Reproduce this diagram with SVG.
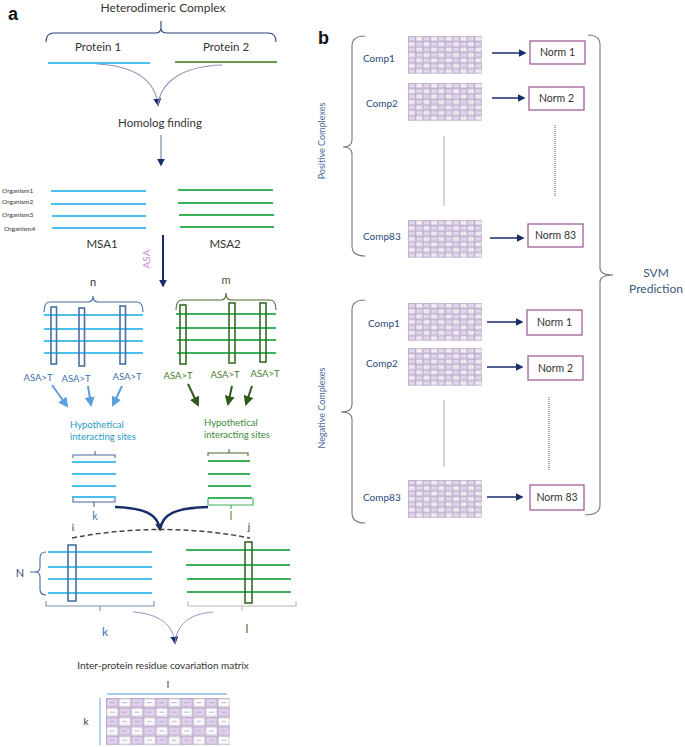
<svg xmlns="http://www.w3.org/2000/svg" width="685" height="747" viewBox="0 0 685 747">
<style>
text{font-family:Lato,"Open Sans","Liberation Sans",sans-serif;fill:#333}
.lab{font-size:11.5px}
.org{font-size:6.5px}
.bl{stroke:#4cbfef;stroke-width:1.8;fill:none}
.gl{stroke:#3cb25a;stroke-width:1.8;fill:none}
.br{fill:none;stroke-width:1.1}
.brect{fill:none;stroke:#4a70a0;stroke-width:1.6}
.grect{fill:none;stroke:#3a6a28;stroke-width:1.6}
.comp{font-size:10px;fill:#2a4a7a}
.norm rect{fill:#fff;stroke:#a0609a;stroke-width:1.3}
.norm text{font-size:10.5px;text-anchor:middle}
.navy{stroke:#1a2d6b;fill:none}
</style>
<defs>
<marker id="mNavy" viewBox="0 0 10 10" refX="8" refY="5" markerWidth="8" markerHeight="8" markerUnits="userSpaceOnUse" orient="auto"><path d="M0,0 L10,5 L0,10 z" fill="#1a2d6b"/></marker>
<marker id="mBlue" viewBox="0 0 10 10" refX="8" refY="5" markerWidth="10" markerHeight="10" markerUnits="userSpaceOnUse" orient="auto"><path d="M0,0 L10,5 L0,10 z" fill="#5aa0dc"/></marker>
<marker id="mGreen" viewBox="0 0 10 10" refX="8" refY="5" markerWidth="10" markerHeight="10" markerUnits="userSpaceOnUse" orient="auto"><path d="M0,0 L10,5 L0,10 z" fill="#2f5a1a"/></marker>
<pattern id="chk" patternUnits="userSpaceOnUse" width="14.8" height="10.8">
<rect width="14.8" height="10.8" fill="#d6d0df"/>
<rect x="0" y="0" width="7.4" height="5.4" fill="#cdb9dc"/>
<rect x="7.4" y="5.4" width="7.4" height="5.4" fill="#cdb9dc"/>
<rect x="1.3" y="1.3" width="4.8" height="2.8" fill="#ece4f2"/>
<rect x="8.7" y="6.7" width="4.8" height="2.8" fill="#ece4f2"/>
<rect x="8.7" y="1.3" width="4.8" height="2.8" fill="#fbfbfd"/>
<rect x="1.3" y="6.7" width="4.8" height="2.8" fill="#fbfbfd"/>
<path d="M2.4,2.7 H5 M9.8,2.7 H12.4 M2.4,8.1 H5 M9.8,8.1 H12.4" stroke="#b8b0c8" stroke-width="0.5"/>
<path d="M0,0.2 H14.8 M0,5.6 H14.8 M0.2,0 V10.8 M7.6,0 V10.8" stroke="#a89cb8" stroke-width="0.4"/>
</pattern>
<pattern id="chkBig" patternUnits="userSpaceOnUse" width="24.8" height="18.8">
<rect width="24.8" height="18.8" fill="#e4e0e8"/>
<rect x="0" y="0" width="12.4" height="9.4" fill="#d4bfe2"/>
<rect x="12.4" y="9.4" width="12.4" height="9.4" fill="#d4bfe2"/>
<rect x="1.6" y="1.8" width="9.2" height="5.8" fill="#e2d4ec"/>
<rect x="14" y="11.2" width="9.2" height="5.8" fill="#e2d4ec"/>
<rect x="14" y="1.8" width="9.2" height="5.8" fill="#fff"/>
<rect x="1.6" y="11.2" width="9.2" height="5.8" fill="#fff"/>
<path d="M3.6,4.7 H8.8 M16,4.7 H21.2 M3.6,14.1 H8.8 M16,14.1 H21.2" stroke="#a8a0c4" stroke-width="0.9"/>
<path d="M0,0.25 H24.8 M0,9.65 H24.8 M0.25,0 V18.8 M12.65,0 V18.8" stroke="#9a8aa8" stroke-width="0.5"/>
</pattern>
<g id="thumb"><rect x="0" y="0" width="74" height="37.8" fill="url(#chk)"/></g>
</defs>

<!-- Panel a -->
<text x="8" y="20" style="font-family:'Liberation Sans',Arial,sans-serif;font-weight:bold;font-size:18px;fill:#111">a</text>
<text x="318" y="44" style="font-family:'Liberation Sans',Arial,sans-serif;font-weight:bold;font-size:18px;fill:#111">b</text>

<g id="heterodimer">
<text x="163" y="12" class="lab" text-anchor="middle" style="font-size:12px">Heterodimeric Complex</text>
<path class="br" stroke="#2a3f80" stroke-width="1.5" d="M46,42 Q46,33 54,33 H155 Q161,33 161,28 Q161,33 167,33 H268 Q276,33 276,42 M161,21 V28"/>
</g>
<g id="protein1">
<text x="98" y="51" class="lab" text-anchor="middle">Protein 1</text>
<line x1="48" y1="63" x2="150" y2="63" class="bl"/>
</g>
<g id="protein2">
<text x="226" y="51" class="lab" text-anchor="middle">Protein 2</text>
<line x1="175" y1="62" x2="277" y2="62" stroke="#6a9a48" stroke-width="1.8"/>
</g>
<g id="homolog">
<text x="160" y="127" class="lab" text-anchor="middle">Homolog finding</text>
</g>
<g id="msa1">
<text x="2" y="193" class="org">Organism1</text>
<text x="2" y="204" class="org">Organism2</text>
<text x="2" y="217" class="org">Organism3</text>
<text x="4" y="231" class="org">Organism4</text>
<path class="bl" d="M51,191 H146 M51,204 H146 M52,216 H146 M52,228 H146"/>
<text x="102" y="248" class="lab" text-anchor="middle">MSA1</text>
</g>
<g id="msa2">
<path class="gl" d="M178,190 H273 M178,203 H273 M179,215 H274 M180,227 H274"/>
<text x="225" y="248" class="lab" text-anchor="middle">MSA2</text>
</g>
<text x="150" y="259" transform="rotate(-90 150 259)" text-anchor="middle" style="font-size:10px;fill:#c48ac8">ASA</text>

<g id="sites1">
<text x="93" y="286" text-anchor="middle" style="font-size:11px">n</text>
<path class="br" stroke="#4a6aa0" d="M44,312 Q44,302 50,302 H88 Q93,302 93,296 Q93,302 98,302 H137 Q143,302 143,312"/>
<path class="bl" d="M44,315 H143 M44,329 H143 M44,341 H143 M44,353 H143"/>
<rect class="brect" x="51" y="307" width="5.5" height="57"/>
<rect class="brect" x="79" y="308" width="5.5" height="58"/>
<rect class="brect" x="120" y="306" width="5.5" height="58"/>
<g style="font-size:9.5px">
<text x="38" y="381" text-anchor="middle" style="fill:#3f6fb0">ASA&gt;T</text>
<text x="76" y="382" text-anchor="middle" style="fill:#3f6fb0">ASA&gt;T</text>
<text x="127" y="380" text-anchor="middle" style="fill:#3f6fb0">ASA&gt;T</text>
</g>
</g>
<g id="sites2">
<text x="226" y="284" text-anchor="middle" style="font-size:11px;fill:#4a5a30">m</text>
<path class="br" stroke="#4a6a30" d="M176,310 Q176,300 182,300 H221 Q226,300 226,293 Q226,300 231,300 H270 Q276,300 276,310"/>
<path class="gl" d="M176,314 H276 M176,328 H276 M177,340 H276 M177,353 H276"/>
<rect class="grect" x="180" y="305" width="6" height="59"/>
<rect class="grect" x="229" y="303" width="6" height="60"/>
<rect class="grect" x="260" y="303" width="6" height="59"/>
<g style="font-size:9.5px">
<text x="178" y="379" text-anchor="middle" style="fill:#4a7a30">ASA&gt;T</text>
<text x="225" y="378" text-anchor="middle" style="fill:#4a7a30">ASA&gt;T</text>
<text x="265" y="377" text-anchor="middle" style="fill:#4a7a30">ASA&gt;T</text>
</g>
</g>
<g id="hyp1">
<text x="70" y="428" style="font-size:9.5px;fill:#2a9ac8">Hypothetical</text>
<text x="70" y="440" style="font-size:9.5px;fill:#2a9ac8">interacting sites</text>
<path class="br" stroke="#4a6aa0" d="M73,458 V455 H115 V458 M95,455 V451"/>
<path class="bl" d="M72,462 H116 M72,474 H116 M72,486 H116 M72,497 H116"/>
<path class="br" stroke="#4a6aa0" d="M73,498 V502 H115 V498 M94,502 V507"/>
<text x="95" y="520" text-anchor="middle" style="font-size:10.5px;fill:#4a70b0">k</text>
</g>
<g id="hyp2">
<text x="204" y="426" style="font-size:9.5px;fill:#3a8a3a">Hypothetical</text>
<text x="204" y="438" style="font-size:9.5px;fill:#3a8a3a">interacting sites</text>
<path class="br" stroke="#4a6a30" d="M208,456 V453 H248 V456 M229,453 V449"/>
<path class="gl" d="M208,461 H250 M208,474 H250 M208,486 H251 M208,498 H252"/>
<path class="br" stroke="#3cb25a" stroke-width="1.3" d="M208,498 V505 H253 V498 M231,505 V509"/>
<text x="231" y="520" text-anchor="middle" style="font-size:10.5px;fill:#4a7a30">l</text>
</g>
<g id="aligned1">
<text x="73" y="531" text-anchor="middle" style="font-size:10px">i</text>
<path class="bl" d="M48,552 H152 M48,567 H152 M48,579 H152 M48,593 H152"/>
<rect class="brect" x="68" y="545" width="8" height="56"/>
<path class="br" stroke="#4a6aa0" d="M46,552 Q40,552 40,558 V567 Q40,572 35,572 Q40,572 40,577 V589 Q40,595 46,595"/>
<line x1="30" y1="572" x2="35" y2="572" stroke="#4a6aa0" stroke-width="1"/>
<text x="20" y="577" text-anchor="middle" style="font-size:11px;fill:#2a4a7a">N</text>
<path class="br" stroke="#7a90b0" d="M46,601 V606 H154 V601 M100,606 V611"/>
<text x="105" y="636" text-anchor="middle" style="font-size:12px;fill:#4a70b0">k</text>
</g>
<g id="aligned2">
<text x="249" y="530" text-anchor="middle" style="font-size:10px">j</text>
<path class="gl" d="M186,550 H290 M186,565 H290 M187,579 H291 M187,592 H291"/>
<rect class="grect" x="245" y="542" width="7" height="61"/>
<path class="br" stroke="#b8b8a8" d="M188,601 V606 H296 V601 M242,606 V611"/>
<text x="247" y="633" text-anchor="middle" style="font-size:12px;fill:#4a6a30">l</text>
</g>
<g id="covmatrix">
<text x="163" y="669" text-anchor="middle" style="font-size:10px">Inter-protein residue covariation matrix</text>
<text x="168" y="688" text-anchor="middle" style="font-size:10px">l</text>
<line x1="107" y1="694" x2="227" y2="694" stroke="#8ab8e6" stroke-width="1.3"/>
<line x1="100" y1="698" x2="100" y2="745" stroke="#8ab8e6" stroke-width="1.3"/>
<text x="86" y="725" text-anchor="middle" style="font-size:10px">k</text>
<g transform="translate(106,698)"><rect x="0" y="0" width="124" height="47" fill="url(#chkBig)"/></g>
</g>

<!-- connectors panel a -->
<g id="connectors-a">
<path d="M97,64 C135,66 155,80 158,105" stroke="#8a98b8" stroke-width="1.1" fill="none" marker-end="url(#mNavy)"/>
<path d="M222,65 C185,66 161,80 158,105" stroke="#8a98b8" stroke-width="1.1" fill="none"/>
<line x1="161" y1="135" x2="161" y2="165" stroke="#7080a0" stroke-width="1.1" marker-end="url(#mNavy)"/>
<line x1="163" y1="235" x2="163" y2="286" class="navy" stroke-width="2" marker-end="url(#mNavy)"/>
<line x1="52" y1="385" x2="67" y2="406" stroke="#5aa0dc" stroke-width="2" marker-end="url(#mBlue)"/>
<line x1="88" y1="386" x2="91" y2="405" stroke="#5aa0dc" stroke-width="2" marker-end="url(#mBlue)"/>
<line x1="122" y1="386" x2="113" y2="405" stroke="#5aa0dc" stroke-width="2" marker-end="url(#mBlue)"/>
<line x1="188" y1="384" x2="198" y2="405" stroke="#2f5a1a" stroke-width="2" marker-end="url(#mGreen)"/>
<line x1="232" y1="386" x2="228" y2="404" stroke="#2f5a1a" stroke-width="2" marker-end="url(#mGreen)"/>
<line x1="252" y1="386" x2="246" y2="404" stroke="#2f5a1a" stroke-width="2" marker-end="url(#mGreen)"/>
<path d="M115,507 C145,508 158,514 160,530" class="navy" stroke-width="2.5" marker-end="url(#mNavy)"/>
<path d="M208,507 C175,508 162,514 160,530" class="navy" stroke-width="2.5"/>
<path d="M72,538 Q160,521 250,538" stroke="#444" stroke-width="1.5" stroke-dasharray="5,3" fill="none"/>
<path d="M133,612 C160,614 173,625 175,643" stroke="#8a98c0" stroke-width="1" fill="none" marker-end="url(#mNavy)"/>
<path d="M213,612 C188,614 177,625 175,643" stroke="#8a98c0" stroke-width="1" fill="none"/>
</g>

<!-- Panel b -->
<g id="positive">
<text x="325" y="141" transform="rotate(-90 325 141)" text-anchor="middle" style="font-size:9px;fill:#4a6a9a">Positive Complexes</text>
<path class="br" stroke="#777" d="M365,36 Q352,36 352,46 V140 Q352,147 343,147 Q352,147 352,154 V246 Q352,256 365,256"/>
</g>
<g id="pos-comp1">
<text x="363" y="62" class="comp">Comp1</text>
<use href="#thumb" x="408" y="36"/>
<g class="norm"><rect x="530" y="41" width="55" height="23"/><text x="557.5" y="56">Norm 1</text></g>
</g>
<g id="pos-comp2">
<text x="366" y="107" class="comp">Comp2</text>
<use href="#thumb" x="408" y="83"/>
<g class="norm"><rect x="529" y="87" width="55" height="23"/><text x="556.5" y="102">Norm 2</text></g>
</g>
<g id="pos-comp83">
<text x="363" y="240" class="comp">Comp83</text>
<use href="#thumb" x="408" y="220"/>
<g class="norm"><rect x="528" y="224" width="55" height="23"/><text x="555.5" y="239">Norm 83</text></g>
</g>
<g id="negative">
<text x="325" y="408" transform="rotate(-90 325 408)" text-anchor="middle" style="font-size:9px;fill:#4a6a9a">Negative Complexes</text>
<path class="br" stroke="#777" d="M365,300 Q352,300 352,310 V405 Q352,412 341,412 Q352,412 352,419 V513 Q352,523 365,523"/>
</g>
<g id="neg-comp1">
<text x="368" y="327" class="comp">Comp1</text>
<use href="#thumb" x="408" y="303"/>
<g class="norm"><rect x="527" y="310" width="55" height="25"/><text x="554.5" y="326">Norm 1</text></g>
</g>
<g id="neg-comp2">
<text x="366" y="367" class="comp">Comp2</text>
<use href="#thumb" x="408" y="348"/>
<g class="norm"><rect x="528" y="356" width="55" height="24"/><text x="555.5" y="372">Norm 2</text></g>
</g>
<g id="neg-comp83">
<text x="363" y="501" class="comp">Comp83</text>
<use href="#thumb" x="408" y="480"/>
<g class="norm"><rect x="530" y="485" width="54" height="25"/><text x="557" y="501">Norm 83</text></g>
</g>
<g id="svm">
<path class="br" stroke="#777" d="M588,35 Q600,35 600,45 V268 Q600,275 613,275 Q600,275 600,282 V505 Q600,515 585,515"/>
<text x="656" y="277" text-anchor="middle" style="font-size:12px;fill:#3a5a7a">SVM</text>
<text x="656" y="293" text-anchor="middle" style="font-size:12px;fill:#3a5a7a">Prediction</text>
</g>
<g id="connectors-b">
<line x1="492" y1="53" x2="525" y2="53" stroke="#1a2d6b" stroke-width="1.5" marker-end="url(#mNavy)"/>
<line x1="492" y1="98" x2="524" y2="98" stroke="#1a2d6b" stroke-width="1.5" marker-end="url(#mNavy)"/>
<line x1="490" y1="238" x2="523" y2="238" stroke="#1a2d6b" stroke-width="1.5" marker-end="url(#mNavy)"/>
<line x1="487" y1="322" x2="522" y2="322" stroke="#1a2d6b" stroke-width="1.5" marker-end="url(#mNavy)"/>
<line x1="487" y1="367" x2="522" y2="367" stroke="#1a2d6b" stroke-width="1.5" marker-end="url(#mNavy)"/>
<line x1="487" y1="497" x2="522" y2="497" stroke="#1a2d6b" stroke-width="1.5" marker-end="url(#mNavy)"/>
<line x1="444" y1="136" x2="444" y2="206" stroke="#999" stroke-width="0.8"/>
<line x1="555" y1="125" x2="555" y2="196" stroke="#555" stroke-width="1" stroke-dasharray="1,1"/>
<line x1="444" y1="400" x2="444" y2="467" stroke="#999" stroke-width="0.8"/>
<line x1="549" y1="397" x2="549" y2="470" stroke="#555" stroke-width="1" stroke-dasharray="1,1"/>
</g>
</svg>
